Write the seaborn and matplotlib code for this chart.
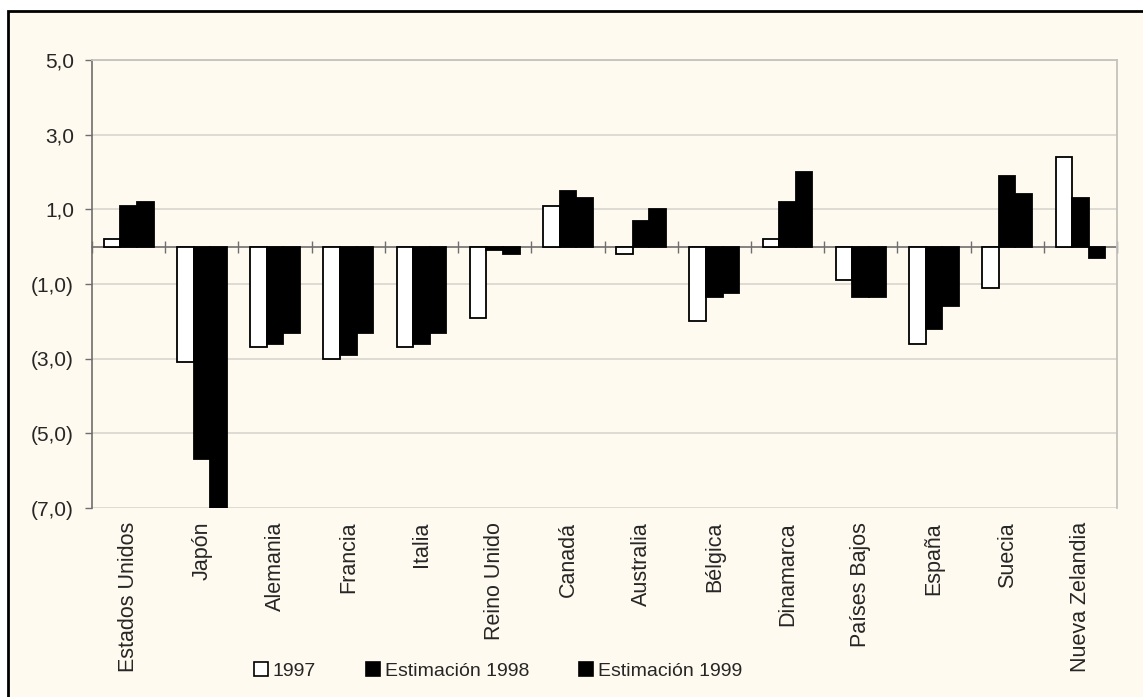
import matplotlib
matplotlib.use("Agg")
import matplotlib.pyplot as plt
from matplotlib.patches import Rectangle
from matplotlib.lines import Line2D
from matplotlib.ticker import FuncFormatter, FixedLocator
import seaborn as sns
import pandas as pd
import numpy as np

# Data: balance (% del PIB) por país
paises = ["Estados Unidos", "Japón", "Alemania", "Francia", "Italia",
          "Reino Unido", "Canadá", "Australia", "Bélgica", "Dinamarca",
          "Países Bajos", "España", "Suecia", "Nueva Zelandia"]
series = ["1997", "Estimación 1998", "Estimación 1999"]
valores_1997 = [0.2, -3.1, -2.7, -3.0, -2.7, -1.9, 1.1, -0.2, -2.0, 0.2, -0.9, -2.6, -1.1, 2.4]
valores_1998 = [1.1, -5.7, -2.6, -2.9, -2.6, -0.1, 1.5, 0.7, -1.35, 1.2, -1.35, -2.2, 1.9, 1.3]
valores_1999 = [1.2, -7.0, -2.3, -2.3, -2.3, -0.2, 1.3, 1.0, -1.25, 2.0, -1.35, -1.6, 1.4, -0.3]
yticks = [-7, -5, -3, -1, 1, 3, 5]

df = pd.DataFrame({
    "pais": paises * 3,
    "serie": np.repeat(series, len(paises)),
    "valor": valores_1997 + valores_1998 + valores_1999,
})

CREAM = "#FFFAEF"
W, H = 1143, 697

sns.set_theme(style="white")
plt.rcParams["font.family"] = ["Liberation Sans", "DejaVu Sans"]

fig = plt.figure(figsize=(W / 100, H / 100), dpi=100, facecolor="white")
# outer framed panel
fig.patches.append(Rectangle((8 / W, -0.05), 1.2, 1 - 11 / H + 0.05,
                             transform=fig.transFigure, facecolor=CREAM,
                             edgecolor="black", linewidth=2, zorder=-5))

ax = fig.add_axes([92 / W, 1 - 508 / H, (1117 - 92) / W, (508 - 60) / H])
ax.set_facecolor(CREAM)

palette = {"1997": "white", "Estimación 1998": "black", "Estimación 1999": "black"}
sns.barplot(data=df, x="pais", y="valor", hue="serie", order=paises,
            hue_order=series, palette=palette, width=0.68,
            edgecolor="black", linewidth=1.3, saturation=1,
            legend=False, ax=ax, zorder=3)

ymin, ymax = -7, 5
ax.set_ylim(ymin, ymax)
ax.set_xlim(-0.5, len(paises) - 0.5)
ax.yaxis.set_major_locator(FixedLocator(yticks))


def fmt(v, pos):
    s = f"{abs(v):.1f}".replace(".", ",")
    return f"({s})" if v < 0 else s


ax.yaxis.set_major_formatter(FuncFormatter(fmt))
ax.grid(axis="y", color="#D4D2CC", linewidth=1.1, zorder=0)
ax.set_axisbelow(True)

for side in ["top", "right"]:
    ax.spines[side].set_color("#C4C2BE")
    ax.spines[side].set_linewidth(1.3)
ax.spines["bottom"].set_visible(False)
ax.spines["left"].set_color("#6E6E6E")
ax.spines["left"].set_linewidth(1.2)

ax.tick_params(axis="y", direction="out", length=5, width=1, color="#6E6E6E",
               labelsize=15, pad=8, left=True)
ax.tick_params(axis="x", length=0, labelsize=15.5, pad=10, labelrotation=90)
ax.set_xlabel("")
ax.set_ylabel("")
for lab in ax.get_xticklabels():
    lab.set_verticalalignment("top")

# zero line with category boundary ticks
zero_pos = (0 - ymin) / (ymax - ymin)
sec = ax.secondary_xaxis(zero_pos)
sec.set_xticks(np.arange(-0.5, len(paises), 1.0))
sec.tick_params(direction="inout", length=9, width=1, color="#6E6E6E",
                labelbottom=False, labeltop=False)
for sp in sec.spines.values():
    sp.set_color("#6E6E6E")
    sp.set_linewidth(1.2)

handles = [Line2D([], [], linestyle="none", marker="s", markersize=9.5,
                  markerfacecolor=palette[s], markeredgecolor="black",
                  markeredgewidth=1.2) for s in series]
fig.legend(handles, series, loc="center left",
           bbox_to_anchor=(251 / W, 1 - 671 / H), ncol=3, frameon=False,
           fontsize=14, handletextpad=0.1, columnspacing=2.45,
           handlelength=1.0, borderpad=0, borderaxespad=0)

fig.savefig("out.png", dpi=100, facecolor="white")
